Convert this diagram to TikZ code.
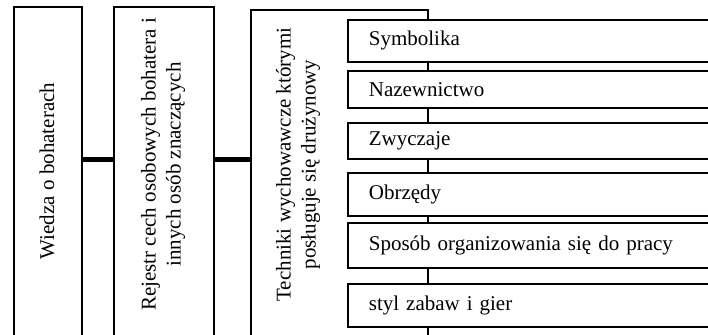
\documentclass[tikz,border=0pt]{standalone}
\usepackage{fontspec}
\setmainfont{Liberation Serif}
\usetikzlibrary{positioning}
\definecolor{lineBlack}{HTML}{000000}
\tikzset{
    bigbox/.style={rectangle, draw=lineBlack, fill=white, line width=1.7pt, anchor=north west, minimum width=#1, inner sep=0pt},
    itembox/.style={rectangle, draw=lineBlack, fill=white, line width=1.7pt, anchor=north west, text width=338pt, inner xsep=21pt, inner ysep=0pt, align=left, font=\fontsize{21}{24}\selectfont},
    vlabel/.style={rotate=90, align=center, font=\fontsize{21}{25}\selectfont},
    link/.style={line width=5pt, draw=lineBlack},
}

\begin{document}
\begin{tikzpicture}[x=1pt, y=1pt]
    \useasboundingbox (0,0) rectangle (708,334);
    \clip (0,0) rectangle (708,334);
    \coordinate (hub) at (0,174);

    % Nodes
    \node[bigbox=68pt, minimum height=340pt] (wiedza) at (13,328) {};
    \node[vlabel] (wiedzaText) at (47,163) {Wiedza o bohaterach};

    \node[bigbox=100pt, minimum height=340pt] (rejestr) at (113,328) {};
    \node[vlabel] (rejestrText) at (163,169.5) {Rejestr cech osobowych bohatera i\\innych osób znaczących};

    \node[bigbox=177pt, minimum height=337pt] (techniki) at (250,325) {};
    \node[vlabel] (technikiText) at (298,169.5) {Techniki wychowawcze którymi\\posługuje się drużynowy};

    \node[itembox, minimum height=42pt] (symbolika) at (347,315) {Symbolika};
    \node[itembox, minimum height=37pt] (nazewnictwo) at (347,264) {Nazewnictwo};
    \node[itembox, minimum height=36pt] (zwyczaje) at (347,212) {Zwyczaje};
    \node[itembox, minimum height=43pt] (obrzedy) at (347,162) {Obrzędy};
    \node[itembox, minimum height=45pt] (sposob) at (347,112) {Sposób organizowania się do pracy};
    \node[itembox, minimum height=43pt] (styl) at (347,51) {styl zabaw i gier};

    % Edges
    \draw[link] (wiedza.east |- hub) -- (rejestr.west |- hub);
    \draw[link] (rejestr.east |- hub) -- (techniki.west |- hub);
\end{tikzpicture}
\end{document}
